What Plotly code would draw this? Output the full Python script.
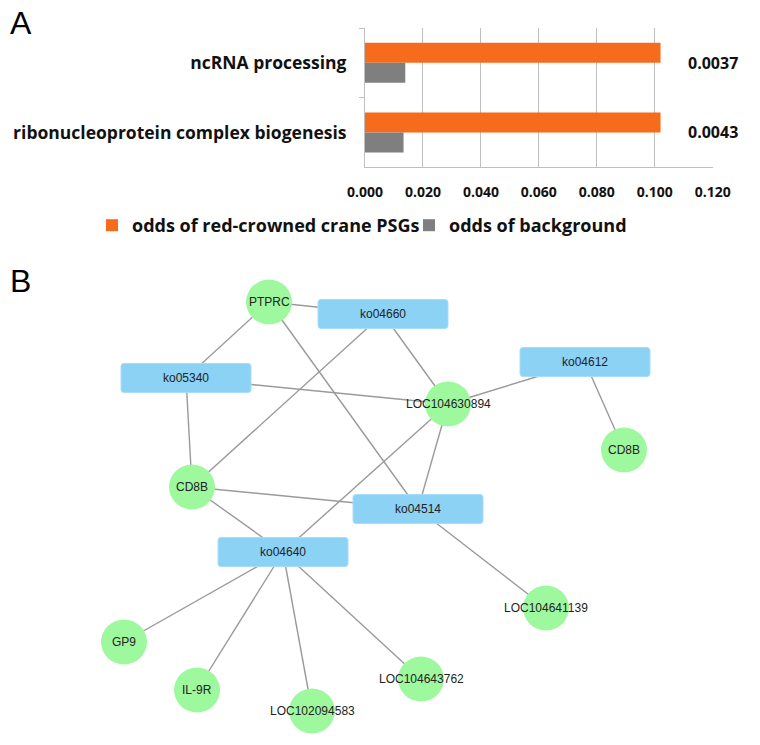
import plotly.graph_objects as go

# ---------------- Panel A data ----------------
categories = ["ncRNA processing", "ribonucleoprotein complex biogenesis"]
odds_psg = [0.102, 0.102]
odds_background = [0.0139, 0.0133]
p_values = ["0.0037", "0.0043"]
x_ticks = [0.0, 0.02, 0.04, 0.06, 0.08, 0.10, 0.12]
x_tick_labels = ["0.000", "0.020", "0.040", "0.060", "0.080", "0.100", "0.120"]
series_names = ["odds of red-crowned crane PSGs", "odds of background"]

# ---------------- Panel B data (network layout) ----------------
node_ids = ["PTPRC", "ko04660", "ko05340", "ko04612", "LOC104630894", "CD8B_r",
            "CD8B_l", "ko04514", "ko04640", "LOC104641139", "GP9", "IL-9R",
            "LOC102094583", "LOC104643762"]
node_labels = ["PTPRC", "ko04660", "ko05340", "ko04612", "LOC104630894", "CD8B",
               "CD8B", "ko04514", "ko04640", "LOC104641139", "GP9", "IL-9R",
               "LOC102094583", "LOC104643762"]
node_kind = ["gene", "pathway", "pathway", "pathway", "gene", "gene",
             "gene", "pathway", "pathway", "gene", "gene", "gene",
             "gene", "gene"]
node_x = [269, 383, 186, 585, 448, 624, 192, 418, 283, 546, 124, 197, 312, 421]
node_y = [302, 314, 378, 362, 404, 450, 487, 509, 552, 608, 642, 690, 711, 679]
edges = [("PTPRC", "ko04660"), ("PTPRC", "ko05340"), ("PTPRC", "ko04514"),
         ("ko04660", "CD8B_l"), ("ko04660", "LOC104630894"),
         ("ko05340", "LOC104630894"), ("ko05340", "CD8B_l"),
         ("LOC104630894", "ko04612"), ("ko04612", "CD8B_r"),
         ("LOC104630894", "ko04640"), ("LOC104630894", "ko04514"),
         ("CD8B_l", "ko04514"), ("CD8B_l", "ko04640"),
         ("ko04640", "GP9"), ("ko04640", "IL-9R"), ("ko04640", "LOC102094583"),
         ("ko04640", "LOC104643762"), ("ko04514", "LOC104641139")]

W, H = 760, 745
ORANGE = "#F76B1C"
GRAY = "#7F7F7F"
GREEN = "#9EF89E"
BLUE = "#8CD2F5"
BAR_FONT = "Open Sans"

fig = go.Figure()

fig.add_trace(go.Bar(y=categories, x=odds_psg, orientation="h", name=series_names[0],
                     marker=dict(color=ORANGE, line=dict(width=0)),
                     xaxis="x", yaxis="y", legend="legend", hoverinfo="skip"))
fig.add_trace(go.Bar(y=categories, x=odds_background, orientation="h", name=series_names[1],
                     marker=dict(color=GRAY, line=dict(width=0)),
                     xaxis="x", yaxis="y", legend="legend2", hoverinfo="skip"))

for cat, pv in zip(categories, p_values):
    fig.add_annotation(x=0.12, y=cat, xref="x", yref="y", text=pv, showarrow=False,
                       xanchor="center", yanchor="middle",
                       font=dict(family=BAR_FONT, size=16, color="#111", weight="bold"))

# ---------------- network ----------------
pos = {nid: (x, y) for nid, x, y in zip(node_ids, node_x, node_y)}
ex, ey = [], []
for a, b in edges:
    ex += [pos[a][0], pos[b][0], None]
    ey += [pos[a][1], pos[b][1], None]
fig.add_trace(go.Scatter(x=ex, y=ey, mode="lines", line=dict(color="#9A9A9A", width=1.4),
                         hoverinfo="skip", showlegend=False, xaxis="x2", yaxis="y2"))

BOX_W, BOX_H, BOX_R = 130, 29, 3
CIRC_W, CIRC_H = 46, 45


def rounded_rect(cx, cy, w, h, r):
    x0, x1 = cx - w / 2, cx + w / 2
    y0, y1 = cy - h / 2, cy + h / 2
    return (f"M {x0 + r},{y0} L {x1 - r},{y0} Q {x1},{y0} {x1},{y0 + r} "
            f"L {x1},{y1 - r} Q {x1},{y1} {x1 - r},{y1} L {x0 + r},{y1} "
            f"Q {x0},{y1} {x0},{y1 - r} L {x0},{y0 + r} Q {x0},{y0} {x0 + r},{y0} Z")


shapes = []
for nid, lab, kind, x, y in zip(node_ids, node_labels, node_kind, node_x, node_y):
    if kind == "pathway":
        shapes.append(dict(type="path", path=rounded_rect(x, y, BOX_W, BOX_H, BOX_R),
                           xref="x2", yref="y2", fillcolor=BLUE,
                           line=dict(color="#A9DDF7", width=1), layer="above"))
    else:
        shapes.append(dict(type="circle", xref="x2", yref="y2",
                           x0=x - CIRC_W / 2, x1=x + CIRC_W / 2,
                           y0=y - CIRC_H / 2, y1=y + CIRC_H / 2,
                           fillcolor=GREEN, line=dict(color=GREEN, width=0), layer="above"))
    fig.add_annotation(x=x, y=y, xref="x2", yref="y2", text=lab, showarrow=False,
                       xanchor="center", yanchor="middle",
                       font=dict(family="Liberation Sans", size=12, color="#222"))

fig.add_annotation(x=8, y=23, xref="x2", yref="y2", text="A", showarrow=False,
                   xanchor="left", yanchor="middle",
                   font=dict(family="Liberation Sans", size=32, color="#000"))
fig.add_annotation(x=8, y=281, xref="x2", yref="y2", text="B", showarrow=False,
                   xanchor="left", yanchor="middle",
                   font=dict(family="Liberation Sans", size=32, color="#000"))

legend_font = dict(family=BAR_FONT, size=18, color="#111", weight="bold")
fig.update_layout(
    width=W, height=H,
    margin=dict(l=0, r=0, t=0, b=0, autoexpand=False),
    paper_bgcolor="white", plot_bgcolor="rgba(0,0,0,0)",
    barmode="group", bargap=0.425, bargroupgap=0,
    shapes=shapes,
    showlegend=True,
    legend=dict(orientation="h", x=92 / W, xanchor="left", y=1 - 207 / H, yanchor="top",
                font=legend_font, itemwidth=30, bgcolor="rgba(0,0,0,0)"),
    legend2=dict(orientation="h", x=409 / W, xanchor="left", y=1 - 207 / H, yanchor="top",
                 font=legend_font, itemwidth=30, bgcolor="rgba(0,0,0,0)"),
    xaxis=dict(domain=[365 / W, 712.7 / W], range=[0, 0.12], tickvals=x_ticks,
               ticktext=x_tick_labels, showgrid=True, gridcolor="#BFBFBF", gridwidth=1,
               showline=True, linecolor="#BFBFBF", linewidth=1, zeroline=False,
               ticks="", anchor="y", automargin=False, ticklabelstandoff=12,
               tickfont=dict(family=BAR_FONT, size=14, color="#111", weight="bold"),
               fixedrange=True),
    yaxis=dict(domain=[1 - 167.3 / H, 1 - 28 / H], autorange="reversed", type="category",
               showline=True, linecolor="#BFBFBF", linewidth=1, ticks="outside",
               tickson="boundaries", ticklen=5, tickcolor="#BFBFBF", showgrid=False,
               anchor="x", automargin=False, fixedrange=True,
               tickfont=dict(family=BAR_FONT, size=17.5, color="#111", weight="bold"),
               ticklabelstandoff=14),
    xaxis2=dict(domain=[0, 1], range=[0, W], visible=False, anchor="y2", fixedrange=True,
                automargin=False),
    yaxis2=dict(domain=[0, 1], range=[H, 0], visible=False, anchor="x2", fixedrange=True,
                automargin=False),
)

fig.write_html("out.html", config={"displayModeBar": False},
               post_script="document.body.style.margin='0px';")
